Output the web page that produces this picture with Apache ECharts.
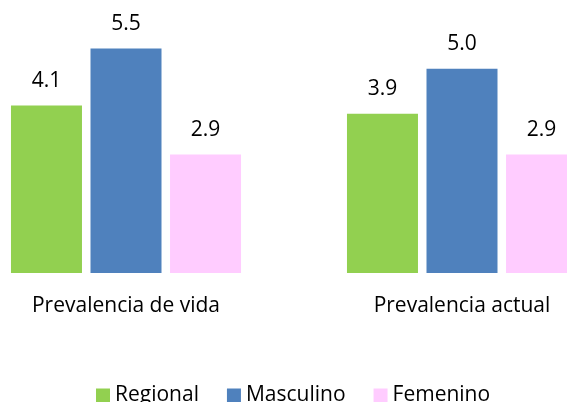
<!DOCTYPE html>
<html>
<head>
<meta charset="utf-8">
<script src="https://cdn.jsdelivr.net/npm/echarts@6/dist/echarts.min.js"></script>
<style>
  html, body { margin: 0; padding: 0; background: #fff; }
  #chart { width: 567px; height: 402px; }
</style>
</head>
<body>
<div id="chart"></div>
<script>
const categories = ['Prevalencia de vida', 'Prevalencia actual'];
const regional = [4.1, 3.9];
const masculino = [5.5, 5.0];
const femenino = [2.9, 2.9];

const chart = echarts.init(document.getElementById('chart'));
const font = '"Open Sans", sans-serif';

const label = {
  show: true,
  position: 'top',
  distance: 14,
  color: '#000',
  fontSize: 21,
  fontFamily: font,
  formatter: p => p.value.toFixed(1)
};

const makeSeries = (name, data, color) => ({
  name: name,
  type: 'bar',
  data: data,
  barWidth: 71,
  barGap: '12%',
  itemStyle: { color: color },
  label: label
});

chart.setOption({
  animation: false,
  grid: { left: -42, width: 672, top: 28, height: 245, outerBoundsMode: 'none' },
  legend: {
    left: 91,
    top: 380,
    icon: 'rect',
    itemWidth: 14,
    itemHeight: 14,
    itemGap: 28,
    textStyle: { fontSize: 21, fontFamily: font, color: '#000' },
    data: ['Regional', 'Masculino', 'Femenino']
  },
  xAxis: {
    type: 'category',
    data: categories,
    axisLine: { show: false },
    axisTick: { show: false },
    axisLabel: { margin: 23, fontSize: 21, fontFamily: font, color: '#000' }
  },
  yAxis: {
    type: 'value',
    min: 0,
    max: 6,
    show: false,
    splitLine: { show: false }
  },
  series: [
    makeSeries('Regional', regional, '#92D050'),
    makeSeries('Masculino', masculino, '#4F81BD'),
    makeSeries('Femenino', femenino, '#FFCCFF')
  ]
});
</script>
</body>
</html>
